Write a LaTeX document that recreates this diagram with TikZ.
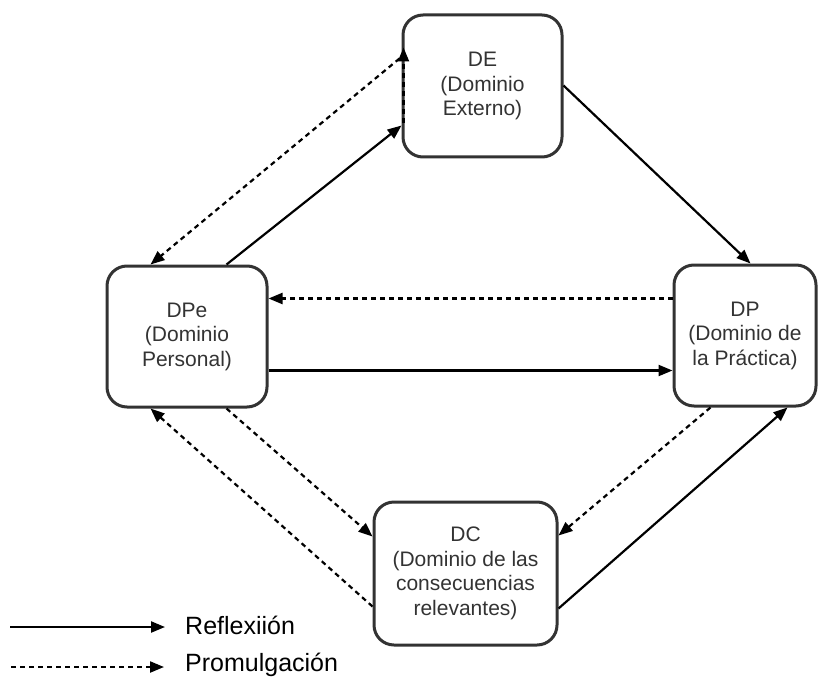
\documentclass[tikz,border=0pt]{standalone}
\usepackage{fontspec}
\setmainfont{Liberation Sans}
\usetikzlibrary{arrows.meta,calc}
\definecolor{boxline}{HTML}{333333}
\definecolor{txt}{HTML}{333333}
\tikzset{
  dombox/.style={draw=boxline, line width=3pt, rounded corners=20pt, fill=white,
    align=center, text=txt, font=\fontsize{21}{24.5}\selectfont, inner sep=0pt},
  refl/.style={line width=2.2pt, -{Triangle[length=14pt,width=11pt]}},
  prom/.style={line width=2.2pt, dash pattern=on 5pt off 4pt, -{Triangle[length=14pt,width=11pt]}},
  legtext/.style={anchor=west, text=black, font=\fontsize{25}{28}\selectfont, inner sep=0pt}
}
\begin{document}
\begin{tikzpicture}[x=1pt,y=-1pt]
\useasboundingbox (0,0) rectangle (818,679);
\node[dombox, minimum width=159pt, minimum height=142pt] (DE) at (482.5,86) {DE\\(Dominio\\Externo)};
\node[dombox, minimum width=160pt, minimum height=141pt] (DPe) at (187,336.5) {DPe\\(Dominio\\Personal)};
\node[dombox, minimum width=142pt, minimum height=141pt] (DP) at (745,335.5) {DP\\(Dominio de\\la Práctica)};
\node[dombox, minimum width=183pt, minimum height=143pt] (DC) at (465.5,573.5) {DC\\(Dominio de las\\consecuencias\\relevantes)};
% Reflexion (solid)
\draw[refl] ($(DPe.north west)+(121,0)$) -- ($(DE.north west)+(0,112)$);
\draw[refl] ($(DE.north east)+(0,72)$) -- ($(DP.north west)+(78,0)$);
\draw[refl] ($(DPe.north east)+(0,106)$) -- ($(DP.north west)+(0,107)$);
\draw[refl] ($(DC.north east)+(0,108)$) -- ($(DP.south west)+(115,0)$);
% Promulgacion (dashed)
\draw[prom] ($(DE.north west)+(-2,45)$) -- ($(DPe.north west)+(45,0)$);
\draw[prom] ($(DE.north west)+(2,110)$) -- ($(DE.north west)+(2,34)$);
\draw[prom] ($(DP.north west)+(0,35)$) -- ($(DPe.north east)+(0,34)$);
\draw[prom] ($(DP.south west)+(38,0)$) -- ($(DC.north east)+(0,35)$);
\draw[prom] ($(DPe.south west)+(121,0)$) -- ($(DC.north west)+(0,36)$);
\draw[prom] ($(DC.north west)+(0,106)$) -- ($(DPe.south west)+(45,0)$);
% Legend
\coordinate (l1a) at (10,627);
\coordinate (l1b) at (165,627);
\coordinate (l2a) at (11,667);
\coordinate (l2b) at (164,667);
\draw[refl] (l1a) -- (l1b);
\draw[prom] (l2a) -- (l2b);
\node[legtext] (lt1) at (185,625) {Reflexiión};
\node[legtext] (lt2) at (185,665) {Promulgación};
\end{tikzpicture}
\end{document}
